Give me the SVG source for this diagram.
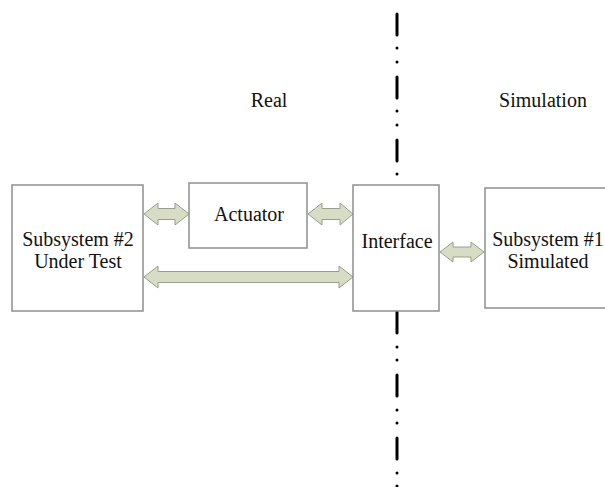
<svg xmlns="http://www.w3.org/2000/svg" width="605" height="487" viewBox="0 0 605 487">
<style>
.box{fill:#fff;stroke:#8e8e8e;stroke-width:1.5}
.arr{fill:#d7dcc4;stroke:#9a9e8c;stroke-width:1}
.t{font-family:'Liberation Serif','DejaVu Serif','Times New Roman',Times,serif;font-size:20px;fill:#111;text-anchor:middle}
.sep{stroke:#000;stroke-width:3;stroke-linecap:round;fill:none}
</style>
<rect width="605" height="487" fill="#fff"/>
<g id="divider">
<line class="sep" x1="397" y1="14" x2="397" y2="180" stroke-dasharray="21 13 0 14 0 15"/>
<line class="sep" x1="397" y1="312" x2="397" y2="487" stroke-dasharray="21 14 0 13 0 15"/>
</g>
<text class="t" x="269" y="107" font-family="Liberation Serif">Real</text>
<text class="t" x="543" y="107" font-family="Liberation Serif">Simulation</text>
<g id="connectors">
<polygon class="arr" points="144,214 158,203 158,208.5 175,208.5 175,203 189,214 175,225 175,219.5 158,219.5 158,225"/>
<polygon class="arr" points="308,214 322,203 322,208.5 340,208.5 340,203 353,214 340,225 340,219.5 322,219.5 322,225"/>
<polygon class="arr" points="144,277 158,266 158,271.5 339,271.5 339,266 353,277 339,288 339,282.5 158,282.5 158,288"/>
<polygon class="arr" points="440,252 453,242 453,247 471,247 471,242 484,252 471,262 471,257 453,257 453,262"/>
</g>
<g id="subsystem2">
<rect class="box" x="12" y="185" width="131" height="126"/>
<text class="t" x="78" y="246" font-family="Liberation Serif">Subsystem #2</text>
<text class="t" x="78" y="268" font-family="Liberation Serif">Under Test</text>
</g>
<g id="actuator">
<rect class="box" x="189" y="183" width="118" height="65"/>
<text class="t" x="249" y="221" font-family="Liberation Serif">Actuator</text>
</g>
<g id="interface">
<rect class="box" x="353" y="185" width="86" height="126"/>
<text class="t" x="397" y="248" font-family="Liberation Serif">Interface</text>
</g>
<g id="subsystem1">
<rect class="box" x="485" y="188" width="130" height="120"/>
<text class="t" x="548" y="246" font-family="Liberation Serif">Subsystem #1</text>
<text class="t" x="548" y="268" font-family="Liberation Serif">Simulated</text>
</g>
</svg>
